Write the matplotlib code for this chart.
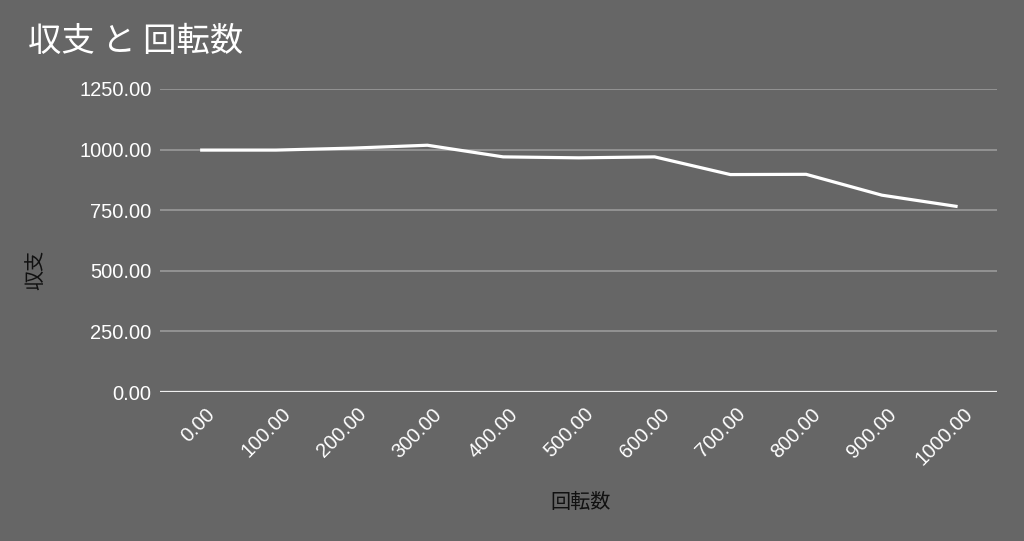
import matplotlib
matplotlib.use("Agg")
import matplotlib.pyplot as plt
import matplotlib.transforms as mtransforms

spins = [0, 100, 200, 300, 400, 500, 600, 700, 800, 900, 1000]
balance = [998, 998, 1006, 1018, 970, 966, 970, 897, 898, 812, 765]
yticks = [0, 250, 500, 750, 1000, 1250]

bg = "#666666"
plt.rcParams['font.family'] = ['Liberation Sans', 'Noto Sans CJK JP', 'DejaVu Sans']

fig = plt.figure(figsize=(10.24, 5.41), dpi=100, facecolor=bg)
ax = fig.add_axes([160/1024, 1-392/541, (997-160)/1024, (392-89)/541])
ax.set_facecolor(bg)

ax.plot(spins, balance, color="white", lw=2.3, solid_capstyle="butt", zorder=3)

ax.set_ylim(0, 1250)
ax.set_xlim(-53, 1052)
ax.set_yticks(yticks)
ax.set_yticklabels([f"{v:.2f}" for v in yticks])
ax.set_xticks(spins)
ax.set_xticklabels([f"{v:.2f}" for v in spins], rotation=45, ha="right",
                   rotation_mode="anchor")
ax.tick_params(axis="both", length=0, colors="white", labelsize=14.5)
ax.tick_params(axis="y", pad=6)
ax.tick_params(axis="x", pad=9)
offset = mtransforms.ScaledTranslation(5/100, 0, fig.dpi_scale_trans)
for lab in ax.get_xticklabels():
    lab.set_transform(lab.get_transform() + offset)

ax.grid(axis="y", color="#9a9a9a", lw=1.2)
ax.axhline(0, color="#f0f0f0", lw=1.6, zorder=2)
for s in ax.spines.values():
    s.set_visible(False)

cjk = ['Noto Sans CJK JP', 'DejaVu Sans']
fig.text(28/1024, 1-42/541, "収支 と 回転数", color="white", fontsize=24,
         family=cjk, va="center", ha="left")
fig.text(581/1024, 1-502/541, "回転数", color="#111111", fontsize=14.5,
         family=cjk, va="center", ha="center")
fig.text(36/1024, 1-270/541, "収支", color="#111111", fontsize=14.5,
         family=cjk, va="center", ha="center", rotation=90)

fig.savefig("out.png", dpi=100, facecolor=bg)
